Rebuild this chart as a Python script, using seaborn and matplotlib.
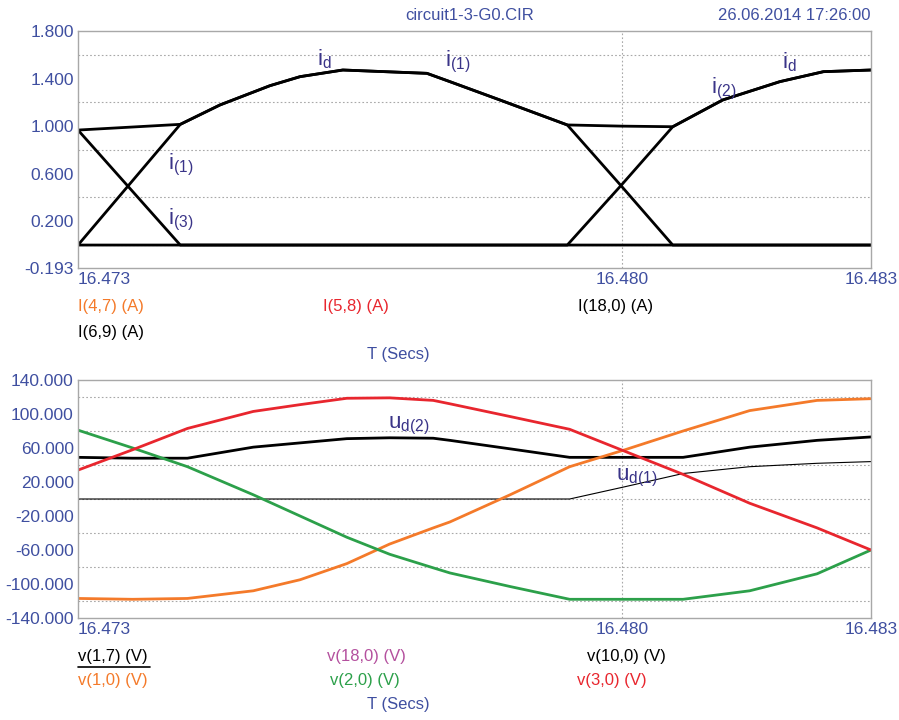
import numpy as np
import seaborn as sns
import matplotlib.pyplot as plt
from matplotlib.lines import Line2D

# ---- data ----
# upper panel: currents (A)
t_top = [16.47314, 16.47443, 16.47493, 16.47556, 16.47594, 16.47648, 16.47754,
         16.47783, 16.47846, 16.47931, 16.48000, 16.48064, 16.48127, 16.48199,
         16.48254, 16.48314]
i_d = [0.967, 1.015, 1.178, 1.34, 1.416, 1.472, 1.444, 1.374, 1.22, 1.01,
       1.0, 0.995, 1.22, 1.374, 1.458, 1.472]
i_1 = [0.0, 1.015, 1.178, 1.34, 1.416, 1.472, 1.444, 1.374, 1.22, 1.01,
       0.49, 0.0, 0.0, 0.0, 0.0, 0.0]
i_2 = [0.0, 0.0, 0.0, 0.0, 0.0, 0.0, 0.0, 0.0, 0.0, 0.0,
       0.51, 0.995, 1.22, 1.374, 1.458, 1.472]
i_3 = [0.967, 0.0, 0.0, 0.0, 0.0, 0.0, 0.0, 0.0, 0.0, 0.0,
       0.0, 0.0, 0.0, 0.0, 0.0, 0.0]

# lower panel: voltages (V)
t_bot = [16.47314, 16.47383, 16.47452, 16.47535, 16.47594, 16.47653, 16.47707,
         16.47762, 16.47783, 16.47859, 16.47934, 16.48004, 16.48077, 16.48161,
         16.48246, 16.48314]
v_1_0 = [-117, -118, -117, -108, -95, -76, -53, -34, -27, 5, 38, 58, 80, 104, 116, 118]
v_2_0 = [81, 60, 38, 5, -20, -45, -65, -81, -87, -103, -118, -118, -118, -108, -88, -60]
v_3_0 = [34, 58, 83, 103, 111, 118.5, 119, 116, 112, 97, 82, 56, 29, -5, -34, -60]
u_d2 = [49, 48, 48, 61, 66, 71, 72, 71.5, 69, 59, 49, 49, 49, 61, 69, 73]
u_d1 = [0, 0, 0, 0, 0, 0, 0, 0, 0, 0, 0, 14.5, 30, 38, 42, 44]

x_ticks = [16.47314, 16.480, 16.48314]
x_tick_labels = ['16.473', '16.480', '16.483']
top_yticks = [1.8, 1.4, 1.0, 0.6, 0.2, -0.193]
bot_yticks = [140, 100, 60, 20, -20, -60, -100, -140]

top_legend = ['I(4,7) (A)', 'I(5,8) (A)', 'I(18,0) (A)', 'I(6,9) (A)']
bot_legend = ['v(1,7) (V)', 'v(18,0) (V)', 'v(10,0) (V)', 'v(1,0) (V)', 'v(2,0) (V)', 'v(3,0) (V)']

# ---- style ----
sns.set_style('white')
plt.rcParams['font.family'] = ['Liberation Sans', 'DejaVu Sans']

BLUE = '#3f4fa0'
NOTE = '#3a3488'
ORANGE = '#f47a2a'
RED = '#e8262e'
GREEN = '#2ca04a'
MAGENTA = '#b4509e'

W, H = 899, 720
fig = plt.figure(figsize=(W / 100, H / 100), dpi=100)


def fx(x):
    return x / W


def fy(y):
    return 1 - y / H


ax1 = fig.add_axes([fx(78), fy(268), (871 - 78) / W, (268 - 31) / H])
ax2 = fig.add_axes([fx(78), fy(618), (871 - 78) / W, (618 - 380) / H])

# upper panel lines (all drawn black in the original)
for s in [i_3, i_1, i_2, i_d]:
    sns.lineplot(x=t_top, y=s, ax=ax1, color='black', lw=2.0,
                 estimator=None, sort=False, legend=False)

# lower panel lines
sns.lineplot(x=t_bot, y=u_d1, ax=ax2, color='black', lw=0.8,
             estimator=None, sort=False, legend=False)
sns.lineplot(x=t_bot, y=u_d2, ax=ax2, color='black', lw=2.0,
             estimator=None, sort=False, legend=False)
sns.lineplot(x=t_bot, y=v_1_0, ax=ax2, color=ORANGE, lw=2.0,
             estimator=None, sort=False, legend=False)
sns.lineplot(x=t_bot, y=v_2_0, ax=ax2, color=GREEN, lw=2.0,
             estimator=None, sort=False, legend=False)
sns.lineplot(x=t_bot, y=v_3_0, ax=ax2, color=RED, lw=2.0,
             estimator=None, sort=False, legend=False)

for ax, yt, ylim, minor in [(ax1, top_yticks, (-0.193, 1.8), np.arange(0, 1.7, 0.2)),
                            (ax2, bot_yticks, (-140, 140), np.arange(-120, 121, 20))]:
    ax.set_xlim(x_ticks[0], x_ticks[-1])
    ax.set_ylim(*ylim)
    ax.set_xlabel('')
    ax.set_ylabel('')
    ax.set_yticks(yt)
    ax.set_yticklabels(['%.3f' % v for v in yt])
    ax.set_yticks(minor, minor=True)
    ax.grid(False)
    ax.grid(which='minor', axis='y', ls=(0, (1.5, 2)), color='#a8a8a8', lw=0.8)
    ax.axvline(16.480, ls=(0, (1.5, 2)), color='#a8a8a8', lw=0.8, zorder=0)
    ax.set_xticks(x_ticks)
    ax.set_xticklabels(x_tick_labels)
    ax.tick_params(length=0, labelsize=12.5, colors=BLUE, pad=3)
    ax.tick_params(axis='y', which='minor', length=0)
    labs = ax.get_xticklabels()
    labs[0].set_ha('left')
    for sp in ax.spines.values():
        sp.set_color('#a8a8a8')
        sp.set_linewidth(1)

# header
fig.text(fx(405), fy(15), 'circuit1-3-G0.CIR', color=BLUE, fontsize=12, va='center')
fig.text(fx(870), fy(15), '26.06.2014 17:26:00', color=BLUE, fontsize=12,
         va='center', ha='right')

# legends under each panel
top_pos = [(78, 307), (323, 307), (578, 307), (78, 332)]
top_col = [ORANGE, RED, 'black', 'black']
for txt, (x, y), c in zip(top_legend, top_pos, top_col):
    fig.text(fx(x), fy(y), txt, color=c, fontsize=12, va='center')
fig.text(fx(398), fy(355), 'T (Secs)', color=BLUE, fontsize=12, va='center', ha='center')

bot_pos = [(78, 657), (327, 657), (587, 657), (78, 681), (330, 681), (577, 681)]
bot_col = ['black', MAGENTA, 'black', ORANGE, GREEN, RED]
for txt, (x, y), c in zip(bot_legend, bot_pos, bot_col):
    fig.text(fx(x), fy(y), txt, color=c, fontsize=12, va='center')
fig.add_artist(Line2D([fx(78), fx(150)], [fy(667), fy(667)], color='black', lw=1.2))
fig.text(fx(398), fy(705), 'T (Secs)', color=BLUE, fontsize=12, va='center', ha='center')

# curve annotations
notes = [(r'$\mathregular{i_d}$', 317, 65), (r'$\mathregular{i_{(1)}}$', 445, 66),
         (r'$\mathregular{i_{(2)}}$', 711, 93), (r'$\mathregular{i_d}$', 782, 68),
         (r'$\mathregular{i_{(1)}}$', 168, 169), (r'$\mathregular{i_{(3)}}$', 168, 224),
         (r'$\mathregular{u_{d(2)}}$', 388, 428), (r'$\mathregular{u_{d(1)}}$', 616, 480)]
for txt, x, y in notes:
    fig.text(fx(x), fy(y), txt, color=NOTE, fontsize=16, va='baseline')

fig.savefig('out.png', dpi=100)
